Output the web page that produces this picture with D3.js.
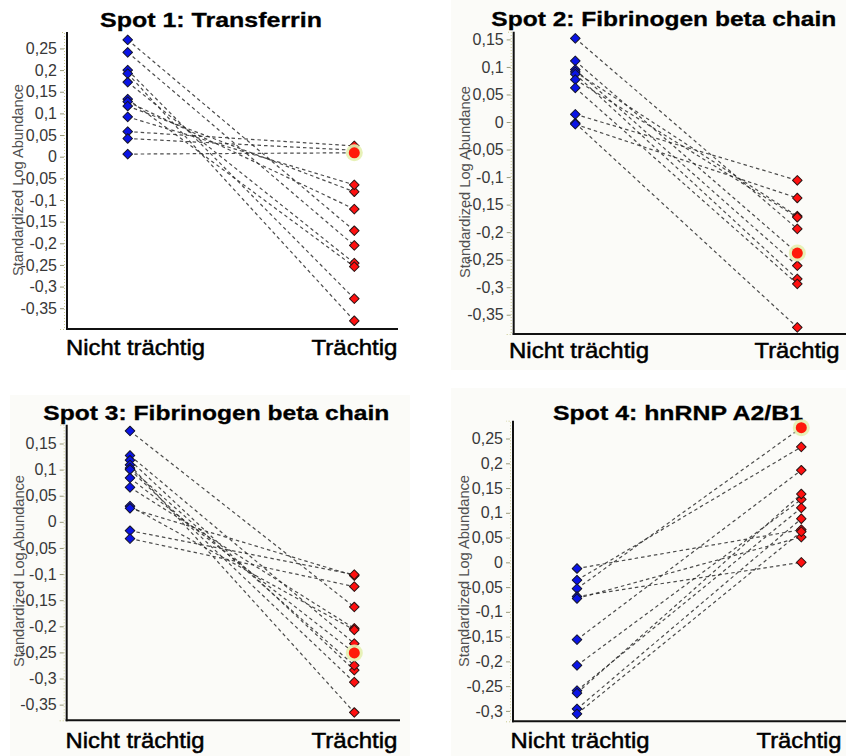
<!DOCTYPE html>
<html>
<head>
<meta charset="utf-8">
<script src="https://cdn.jsdelivr.net/npm/d3@7"></script>
<style>
  html, body { margin: 0; padding: 0; background: #ffffff; }
  svg { display: block; }
  text { font-family: "Liberation Sans", Arial, sans-serif; }
</style>
</head>
<body>
<svg id="chart" width="846" height="756"></svg>
<script>
// Groups on the x axis
const groups = ["Nicht trächtig", "Trächtig"];

// Spot 1: Transferrin (each index = one animal, paired across groups)
const spot1Nicht     = [0.270, 0.241, 0.200, 0.192, 0.172, 0.133, 0.127, 0.117, 0.092, 0.058, 0.042, 0.006];
const spot1Traechtig = [-0.171, -0.205, -0.328, -0.379, -0.246, -0.254, -0.121, -0.081, -0.065, 0.025, 0.015, 0.009];

// Spot 2: Fibrinogen beta chain
const spot2Nicht     = [0.152, 0.111, 0.095, 0.091, 0.087, 0.077, 0.062, 0.014, -0.002, -0.004];
const spot2Traechtig = [-0.194, -0.238, -0.261, -0.171, -0.285, -0.173, -0.294, -0.106, -0.373, -0.138];

// Spot 3: Fibrinogen beta chain
const spot3Nicht     = [0.174, 0.127, 0.118, 0.109, 0.103, 0.100, 0.084, 0.066, 0.030, 0.026, -0.017, -0.032];
const spot3Traechtig = [-0.163, -0.233, -0.284, -0.365, -0.275, -0.307, -0.251, -0.204, -0.207, -0.103, -0.101, -0.124];

// Spot 4: hnRNP A2/B1
const spot4Nicht     = [-0.0125, -0.036, -0.053, -0.069, -0.073, -0.156, -0.208, -0.259, -0.264, -0.296, -0.306];
const spot4Traechtig = [0.066, 0.233, 0.272, 0.000, 0.051, 0.186, 0.127, 0.110, 0.138, 0.088, 0.062];

// Highlighted animal (index) per spot
const highlightIndex = [11, 1, 6, 2];

// Tick values per spot
const ticks1 = [0.25, 0.2, 0.15, 0.1, 0.05, 0, -0.05, -0.1, -0.15, -0.2, -0.25, -0.3, -0.35];
const ticks2 = [0.15, 0.1, 0.05, 0, -0.05, -0.1, -0.15, -0.2, -0.25, -0.3, -0.35];
const ticks3 = [0.15, 0.1, 0.05, 0, -0.05, -0.1, -0.15, -0.2, -0.25, -0.3, -0.35];
const ticks4 = [0.25, 0.2, 0.15, 0.1, 0.05, 0, -0.05, -0.1, -0.15, -0.2, -0.25, -0.3];

const titles = ["Spot 1: Transferrin", "Spot 2: Fibrinogen beta chain",
                "Spot 3: Fibrinogen beta chain", "Spot 4: hnRNP A2/B1"];
const yTitle = "Standardized Log Abundance";

// German number format: decimal comma
const deLocale = d3.formatLocale({decimal: ",", thousands: ".", grouping: [3], currency: ["", " €"], minus: "-"});
const fmt = deLocale.format("~g");

// Layout of each panel
const panels = [
  { nicht: spot1Nicht, traechtig: spot1Traechtig, ticks: ticks1, title: titles[0],
    bg: null, axisX: 67, top: 32, bottom: 329, right: 398, domain: [-0.398, 0.288],
    px: [127.7, 354.3], titleX: 211, titleY: 27, titleW: 222,
    catY: 355, catX: [135.5, 354.5], catW: [139, 86], yTitleX: 19, yTitleY: 180 },
  { nicht: spot2Nicht, traechtig: spot2Traechtig, ticks: ticks2, title: titles[1],
    bg: [451, 0, 395, 370], axisX: 513.7, top: 31.7, bottom: 334, right: 846, domain: [-0.385, 0.164],
    px: [575.3, 797.3], titleX: 663.8, titleY: 26, titleW: 345,
    catY: 357.5, catX: [579, 797], catW: [140, 85], yTitleX: 466, yTitleY: 182 },
  { nicht: spot3Nicht, traechtig: spot3Traechtig, ticks: ticks3, title: titles[2],
    bg: [10, 395, 400, 361], axisX: 66.7, top: 424.7, bottom: 720.3, right: 400, domain: [-0.380, 0.186],
    px: [130, 354.3], titleX: 216.3, titleY: 419.5, titleW: 346,
    catY: 747.5, catX: [135, 354.5], catW: [139, 86], yTitleX: 20, yTitleY: 571 },
  { nicht: spot4Nicht, traechtig: spot4Traechtig, ticks: ticks4, title: titles[3],
    bg: [451, 388, 395, 368], axisX: 513, top: 420.7, bottom: 721.3, right: 846, domain: [-0.321, 0.286],
    px: [577, 801.3], titleX: 678, titleY: 419.5, titleW: 250,
    catY: 748, catX: [580, 799], catW: [139, 85], yTitleX: 465, yTitleY: 571 }
];

const svg = d3.select("#chart");
const diamond = d3.symbol().type(d3.symbolSquare).size(46);

panels.forEach((p, pi) => {
  const g = svg.append("g");

  if (p.bg) {
    g.append("rect").attr("x", p.bg[0]).attr("y", p.bg[1])
      .attr("width", p.bg[2]).attr("height", p.bg[3]).attr("fill", "#fbfbf8");
  }

  const y = d3.scaleLinear().domain(p.domain).range([p.bottom, p.top]);
  const x = d3.scalePoint().domain(groups).range(p.px);

  // y axis with German tick labels
  const yAxis = d3.axisLeft(y).tickValues(p.ticks).tickFormat(fmt).tickSize(4).tickPadding(3);
  const ya = g.append("g").attr("transform", `translate(${p.axisX - 3},0)`).call(yAxis);
  ya.select(".domain").attr("stroke", "#c9c98f").attr("stroke-width", 1).attr("stroke-dasharray", "1,2");
  ya.selectAll(".tick line").attr("stroke", "#9a9a7a");
  ya.selectAll(".tick text")
    .attr("font-size", 16).attr("fill", "#383838")
    .attr("font-family", "'Liberation Sans', Arial, sans-serif");

  // solid axis lines
  g.append("line").attr("x1", p.axisX).attr("x2", p.axisX)
    .attr("y1", p.top).attr("y2", p.bottom + 1)
    .attr("stroke", "#111").attr("stroke-width", 2);
  g.append("line").attr("x1", p.axisX - 1).attr("x2", p.right)
    .attr("y1", p.bottom).attr("y2", p.bottom)
    .attr("stroke", "#111").attr("stroke-width", 2);

  // y axis title
  g.append("text")
    .attr("transform", `translate(${p.yTitleX},${p.yTitleY}) rotate(-90)`)
    .attr("text-anchor", "middle").attr("dominant-baseline", "middle")
    .attr("font-size", 14).attr("fill", "#505050")
    .attr("textLength", 192).attr("lengthAdjust", "spacingAndGlyphs")
    .text(yTitle);

  // panel title
  g.append("text")
    .attr("x", p.titleX).attr("y", p.titleY)
    .attr("text-anchor", "middle").attr("font-size", 21).attr("font-weight", "bold")
    .attr("fill", "#000").attr("stroke", "#000").attr("stroke-width", 0.3)
    .attr("textLength", p.titleW).attr("lengthAdjust", "spacingAndGlyphs")
    .text(p.title);

  // group labels
  groups.forEach((grp, gi) => {
    g.append("text")
      .attr("x", p.catX[gi]).attr("y", p.catY)
      .attr("text-anchor", "middle").attr("font-size", 22.5)
      .attr("fill", "#000").attr("stroke", "#000").attr("stroke-width", 0.5)
      .attr("textLength", p.catW[gi]).attr("lengthAdjust", "spacingAndGlyphs")
      .text(grp);
  });

  // paired data
  const pairs = p.nicht.map((v, i) => ({ a: v, b: p.traechtig[i], i }));

  // dashed connecting lines
  g.append("g").selectAll("line").data(pairs).join("line")
    .attr("x1", x(groups[0])).attr("x2", x(groups[1]))
    .attr("y1", d => y(d.a)).attr("y2", d => y(d.b))
    .attr("stroke", "#2e2e2e").attr("stroke-width", 1.2)
    .attr("stroke-dasharray", "3.5,3").attr("opacity", 0.85);

  // non-pregnant points (blue)
  g.append("g").selectAll("path").data(pairs).join("path")
    .attr("d", diamond)
    .attr("transform", d => `translate(${x(groups[0])},${y(d.a)}) rotate(45)`)
    .attr("fill", "#0a14e6").attr("stroke", "#14142a").attr("stroke-width", 1)
    .attr("stroke-linejoin", "round");

  // pregnant points (red)
  g.append("g").selectAll("path").data(pairs).join("path")
    .attr("d", diamond)
    .attr("transform", d => `translate(${x(groups[1])},${y(d.b)}) rotate(45)`)
    .attr("fill", "#ff1010").attr("stroke", "#2a1414").attr("stroke-width", 1)
    .attr("stroke-linejoin", "round");

  // highlighted animal
  const h = pairs[highlightIndex[pi]];
  g.append("circle").attr("cx", x(groups[1])).attr("cy", y(h.b)).attr("r", 8.5)
    .attr("fill", "#e4efb0").attr("opacity", 0.9);
  g.append("circle").attr("cx", x(groups[1])).attr("cy", y(h.b)).attr("r", 5.5)
    .attr("fill", "#ff1a0a");
});
</script>
</body>
</html>
